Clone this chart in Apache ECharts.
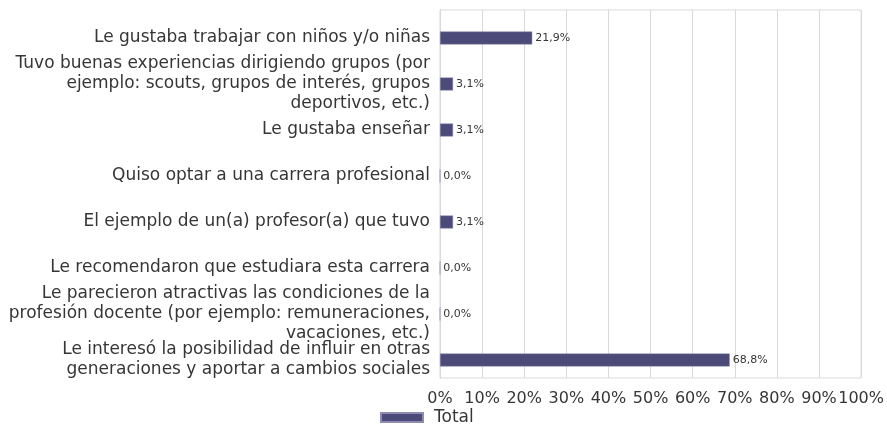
<!DOCTYPE html>
<html>
<head>
<meta charset="utf-8">
<script src="https://cdn.jsdelivr.net/npm/echarts@6/dist/echarts.min.js"></script>
<style>
  html, body { margin: 0; padding: 0; background: #fff; }
  #chart { width: 887px; height: 425px; }
</style>
</head>
<body>
<div id="chart"></div>
<script>
let categories = [
  'Le gustaba trabajar con niños y/o niñas',
  'Tuvo buenas experiencias dirigiendo grupos (por\nejemplo: scouts, grupos de interés, grupos\ndeportivos, etc.)',
  'Le gustaba enseñar',
  'Quiso optar a una carrera profesional',
  'El ejemplo de un(a) profesor(a) que tuvo',
  'Le recomendaron que estudiara esta carrera',
  'Le parecieron atractivas las condiciones de la\nprofesión docente (por ejemplo: remuneraciones,\nvacaciones, etc.)',
  'Le interesó la posibilidad de influir en otras\ngeneraciones y aportar a cambios sociales'
];
let totalValues = [21.9, 3.1, 3.1, 0.0, 3.1, 0.0, 0.0, 68.8];
let seriesName = 'Total';

let font = 'DejaVu Sans';
let textColor = '#363636';
let gridColor = '#d9d9d9';

let option = {
  animation: false,
  textStyle: { fontFamily: font },
  grid: {
    left: 440,
    right: 25,
    top: 10,
    height: 368,
    show: true,
    borderColor: gridColor,
    borderWidth: 1
  },
  legend: {
    top: 404,
    left: 375,
    itemWidth: 42,
    itemHeight: 9,
    icon: 'rect',
    textStyle: { fontFamily: font, fontSize: 17, color: textColor, padding: [0, 0, 0, 6] },
    data: [seriesName]
  },
  xAxis: {
    type: 'value',
    min: 0,
    max: 100,
    interval: 10,
    axisLine: { show: false },
    axisTick: { show: false },
    axisLabel: {
      color: textColor,
      fontSize: 16,
      margin: 13,
      formatter: function(v) { return v + '%'; }
    },
    splitLine: { lineStyle: { color: gridColor, width: 1 } }
  },
  yAxis: {
    type: 'category',
    inverse: true,
    data: categories,
    axisLine: { show: true, lineStyle: { color: gridColor } },
    axisTick: { show: false },
    axisLabel: {
      interval: 0,
      color: textColor,
      fontSize: 17,
      lineHeight: 20,
      align: 'right',
      margin: 10,
      // a thin empty first line pushes each label down to sit level with its bar
      formatter: function(v) { return '{s| }\n' + v; },
      rich: { s: { fontSize: 1, lineHeight: 10 } }
    }
  },
  series: [
    {
      // empty spacer so the bars sit a little low in each band, as in the original
      name: 'pad',
      type: 'bar',
      data: totalValues.map(function() { return 0; }),
      barWidth: 13,
      barGap: '-23%',
      silent: true,
      itemStyle: { color: 'rgba(0,0,0,0)' }
    },
    {
      name: seriesName,
      type: 'bar',
      data: totalValues,
      barWidth: 13,
      itemStyle: {
        color: '#4b4a78',
        borderColor: '#8d8cb0',
        borderWidth: 0.5
      },
      label: {
        show: true,
        position: 'right',
        distance: 3,
        fontSize: 11,
        color: textColor,
        fontFamily: font,
        formatter: function(p) { return p.value.toFixed(1).replace('.', ',') + '%'; }
      }
    }
  ]
};

let chart = echarts.init(document.getElementById('chart'));
chart.setOption(option);
</script>
</body>
</html>
